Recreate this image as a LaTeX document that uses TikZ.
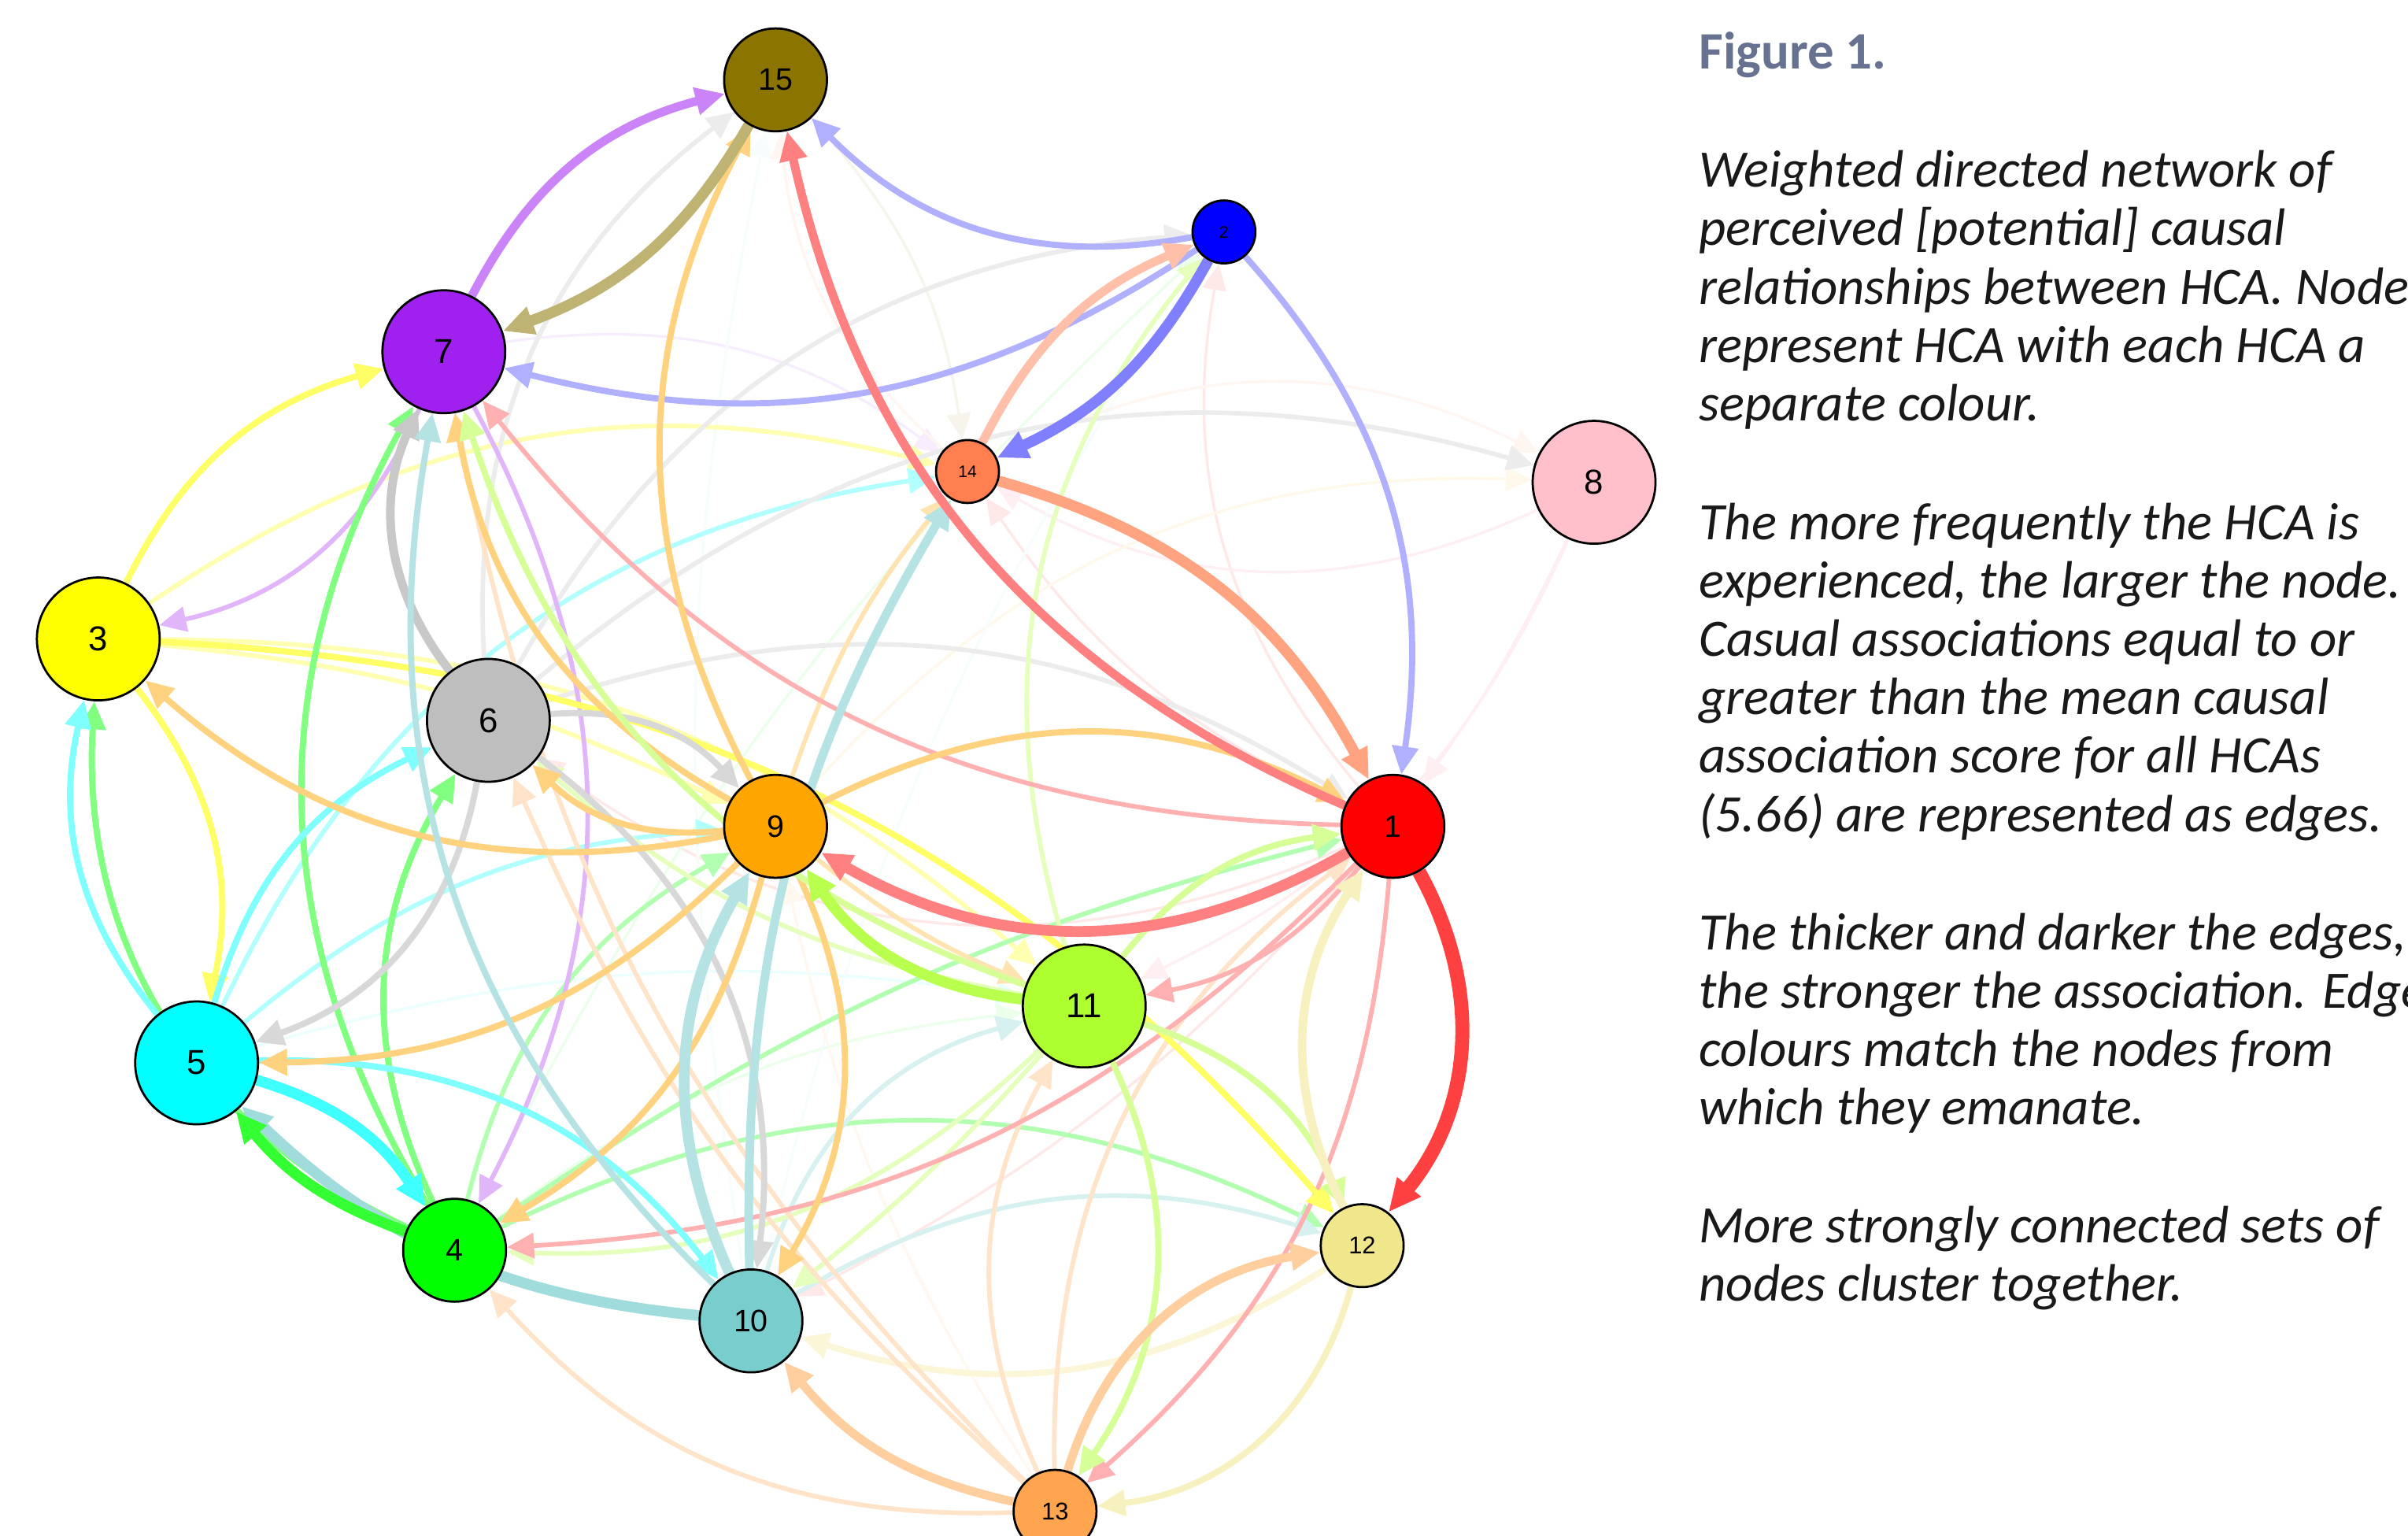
\documentclass[tikz,border=0pt]{standalone}
\usepackage{fontspec}
\setmainfont{Carlito}
\newfontfamily\nodefont{Liberation Sans}
\usetikzlibrary{arrows.meta}

\definecolor{h1}{HTML}{FF0000}
\definecolor{h2}{HTML}{0000FF}
\definecolor{h3}{HTML}{FFFF00}
\definecolor{h4}{HTML}{00FF00}
\definecolor{h5}{HTML}{00FFFF}
\definecolor{h6}{HTML}{BEBEBE}
\definecolor{h7}{HTML}{A020F0}
\definecolor{h8}{HTML}{FFC0CB}
\definecolor{h9}{HTML}{FFA500}
\definecolor{h10}{HTML}{79CDCD}
\definecolor{h11}{HTML}{ADFF2F}
\definecolor{h12}{HTML}{F0E68C}
\definecolor{h13}{HTML}{FFA54F}
\definecolor{h14}{HTML}{FF7F50}
\definecolor{h15}{HTML}{8B7500}
\definecolor{figslate}{HTML}{66728F}

\pgfdeclarelayer{edges}
\pgfsetlayers{edges,main}

\begin{document}
\begin{tikzpicture}[x=0.02cm, y=0.02cm,
  hca/.style={circle, draw=black, line width=0.8pt, inner sep=0pt},
  hcaL/.style={hca, minimum size=1.6cm, font=\nodefont\fontsize{12.8pt}{15pt}\selectfont},
  hcaM/.style={hca, minimum size=1.34cm, font=\nodefont\fontsize{11.5pt}{13pt}\selectfont},
  hcaS/.style={hca, minimum size=1.08cm, font=\nodefont\fontsize{9pt}{11pt}\selectfont},
  hcaT/.style={hca, minimum size=0.82cm, font=\nodefont\fontsize{6.2pt}{7pt}\selectfont},
  e/.style={-{Triangle[length=9pt 0.6, width=8.5pt 0.4]}},
  ew1/.style={line width=1.0pt},
  ew2/.style={line width=1.7pt},
  ew3/.style={line width=2.3pt},
  ew4/.style={line width=3.2pt},
  ew5/.style={line width=4.0pt},
  ew6/.style={line width=5.2pt},
  para/.style={anchor=base west, align=left, inner sep=0pt, text=black!90,
    font=\fontsize{19.5pt}{21.66pt}\selectfont\itshape}]
\useasboundingbox (0,0) rectangle (1568,-1000);

\node[hcaM, fill=h1] (n1) at (907,-538) {1};
\node[hcaT, fill=h2] (n2) at (797,-151) {2};
\node[hcaL, fill=h3] (n3) at (64,-416) {3};
\node[hcaM, fill=h4] (n4) at (296,-814) {4};
\node[hcaL, fill=h5] (n5) at (128,-692) {5};
\node[hcaL, fill=h6] (n6) at (318,-469) {6};
\node[hcaL, fill=h7] (n7) at (289,-229) {7};
\node[hcaL, fill=h8] (n8) at (1038,-314) {8};
\node[hcaM, fill=h9] (n9) at (505,-538) {9};
\node[hcaM, fill=h10] (n10) at (489,-860) {10};
\node[hcaL, fill=h11] (n11) at (706,-655) {11};
\node[hcaS, fill=h12] (n12) at (887,-811) {12};
\node[hcaS, fill=h13] (n13) at (687,-984) {13};
\node[hcaT, fill=h14] (n14) at (630,-307) {14};
\node[hcaM, fill=h15] (n15) at (505,-52) {15};

\begin{pgfonlayer}{edges}
% faint
\draw[e, ew1, h1!9] (n1) to[bend left=25] (n2);
\draw[e, ew1, h1!9] (n1) to[bend left=15] (n14);
\draw[e, ew1, h1!9] (n1) to[bend left=30] (n6);
\draw[e, ew1, h1!9] (n1) to[bend left=10] (n10);
\draw[e, ew1, h4!8] (n4) to[bend left=15] (n11);
\draw[e, ew1, h4!8] (n4) to[bend left=10] (n2);
\draw[e, ew1, h5!8] (n5) to[bend left=12] (n11);
\draw[e, ew1, h7!8] (n7) to[bend left=22] (n14);
\draw[e, ew1, h8!25] (n8) to[bend left=27] (n14);
\draw[e, ew1, h8!25] (n8) to[bend left=5] (n1);
\draw[e, ew1, h8!25] (n8) to[bend left=20] (n11);
\draw[e, ew1, h9!8] (n9) to[bend left=25] (n8);
\draw[e, ew1, h10!6] (n10) to[bend left=10] (n15);
\draw[e, ew1, h10!6] (n10) to[bend left=10] (n2);
\draw[e, ew1, h13!8] (n13) to[bend left=10] (n9);
\draw[e, ew1, h14!8] (n14) to[bend left=27] (n8);
\draw[e, ew1, h14!8] (n14) to[bend left=21] (n15);
\draw[e, ew1, h15!8] (n15) to[bend left=17] (n14);
% light
\draw[e, ew2, h3!30] (n3) to[bend left=24] (n14);
\draw[e, ew2, h3!30] (n3) to[bend left=20] (n11);
\draw[e, ew2, h3!30] (n3) to[bend left=10] (n9);
\draw[e, ew2, h4!30] (n4) to[bend left=23] (n9);
\draw[e, ew2, h4!30] (n4) to[bend left=10] (n1);
\draw[e, ew2, h4!30] (n4) to[bend left=26] (n12);
\draw[e, ew2, h5!30] (n5) to[bend left=28] (n14);
\draw[e, ew2, h5!30] (n5) to[bend left=18] (n9);
\draw[e, ew2, h6!30] (n6) to[bend left=28] (n15);
\draw[e, ew2, h6!30] (n6) to[bend left=28] (n2);
\draw[e, ew2, h6!30] (n6) to[bend left=28] (n8);
\draw[e, ew2, h6!30] (n6) to[bend left=25] (n1);
\draw[e, ew2, h7!33] (n7) to[bend left=27] (n3);
\draw[e, ew2, h7!33] (n7) to[bend left=28] (n4);
\draw[e, ew2, h9!30] (n9) to[bend left=10] (n14);
\draw[e, ew2, h9!30] (n9) to[bend right=8] (n11);
\draw[e, ew2, h10!30] (n10) to[bend left=29] (n11);
\draw[e, ew2, h10!30] (n10) to[bend left=24] (n12);
\draw[e, ew2, h11!32] (n11) to[bend left=28] (n2);
\draw[e, ew2, h11!32] (n11) to[bend left=15] (n6);
\draw[e, ew2, h11!32] (n11) to[bend left=23] (n4);
\draw[e, ew2, h11!32] (n11) to[bend left=5] (n10);
\draw[e, ew3, h12!35] (n12) to[bend left=25] (n10);
\draw[e, ew2, h13!30] (n13) to[bend left=25] (n4);
\draw[e, ew2, h13!30] (n13) to[bend left=27] (n11);
\draw[e, ew2, h13!30] (n13) to[bend left=27] (n1);
\draw[e, ew2, h13!30] (n13) to[bend left=12] (n6);
\draw[e, ew2, h13!30] (n13) to[bend left=17] (n7);
\draw[e, ew2, h1!31] (n1) to[bend left=25] (n7);
\draw[e, ew2, h1!31] (n1) to[bend left=20] (n11);
\draw[e, ew2, h1!31] (n1) to[bend left=22] (n13);
\draw[e, ew2, h1!31] (n1) to[bend left=21] (n4);
\draw[e, ew3, h2!31] (n2) to[bend left=28] (n15);
\draw[e, ew3, h2!31] (n2) to[bend left=24] (n7);
\draw[e, ew3, h2!31] (n2) to[bend left=25] (n1);
% strong
\draw[e, ew3, h3!60] (n3) to[bend left=24] (n7);
\draw[e, ew3, h3!60] (n3) to[bend left=23] (n12);
\draw[e, ew3, h3!60] (n3) to[bend left=25] (n5);
\draw[e, ew3, h4!50] (n4) to[bend left=34] (n3);
\draw[e, ew3, h4!50] (n4) to[bend left=28] (n6);
\draw[e, ew3, h4!50] (n4) to[bend left=30] (n7);
\draw[e, ew3, h5!50] (n5) to[bend left=26] (n3);
\draw[e, ew3, h5!50] (n5) to[bend left=24] (n6);
\draw[e, ew3, h5!50] (n5) to[bend left=27] (n10);
\draw[e, ew3, h6!60] (n6) to[bend left=30] (n5);
\draw[e, ew3, h6!60] (n6) to[bend left=26] (n9);
\draw[e, ew3, h6!60] (n6) to[bend left=30] (n10);
\draw[e, ew4, h6!85] (n6) to[bend left=31] (n7);
\draw[e, ew4, h7!55] (n7) to[bend left=24] (n15);
\draw[e, ew3, h9!50] (n9) to[bend left=28] (n15);
\draw[e, ew3, h9!50] (n9) to[bend left=26] (n3);
\draw[e, ew3, h9!50] (n9) to[bend left=25] (n6);
\draw[e, ew3, h9!50] (n9) to[bend left=25] (n7);
\draw[e, ew3, h9!50] (n9) to[bend left=27] (n1);
\draw[e, ew3, h9!50] (n9) to[bend left=22] (n5);
\draw[e, ew3, h9!50] (n9) to[bend left=22] (n4);
\draw[e, ew3, h9!50] (n9) to[bend left=28] (n10);
\draw[e, ew3, h10!55] (n10) to[bend left=28] (n7);
\draw[e, ew4, h10!55] (n10) to[bend left=16] (n14);
\draw[e, ew5, h10!55] (n10) to[bend left=27] (n9);
\draw[e, ew5, h10!70] (n10) to[bend left=19] (n5);
\draw[e, ew3, h11!50] (n11) to[bend left=26] (n7);
\draw[e, ew3, h11!50] (n11) to[bend left=24] (n12);
\draw[e, ew3, h11!50] (n11) to[bend left=22] (n1);
\draw[e, ew3, h11!50] (n11) to[bend left=30] (n13);
\draw[e, ew5, h11!85] (n11) to[bend left=24] (n9);
\draw[e, ew4, h12!55] (n12) to[bend left=30] (n1);
\draw[e, ew3, h12!55] (n12) to[bend left=34] (n13);
\draw[e, ew4, h13!55] (n13) to[bend left=19] (n10);
\draw[e, ew4, h13!55] (n13) to[bend left=32] (n12);
\draw[e, ew4, h14!50] (n14) to[bend left=20] (n2);
\draw[e, ew5, h14!72] (n14) to[bend left=23] (n1);
\draw[e, ew5, h15!55] (n15) to[bend left=20] (n7);
\draw[e, ew5, h2!50] (n2) to[bend left=18] (n14);
\draw[e, ew4, h1!50] (n1) to[bend left=27] (n15);
\draw[e, ew5, h1!50] (n1) to[bend left=30] (n9);
\draw[e, ew6, h1!75] (n1) to[bend left=34] (n12);
\draw[e, ew5, h5!75] (n5) to[bend left=20] (n4);
\draw[e, ew5, h4!80] (n4) to[bend left=15] (n5);
\end{pgfonlayer}

\node[anchor=base west, inner sep=0pt, text=figslate, font=\fontsize{19.5pt}{21.66pt}\selectfont\bfseries] (cap0) at (1106,-44.8) {Figure 1.};
\node[para] (cap1) at (1106,-274.0) {Weighted directed network of\\ perceived [potential] causal\\ relationships between HCA. Nodes\\ represent HCA with each HCA a\\ separate colour.};
\node[para] (cap2) at (1106,-541.4) {The more frequently the HCA is\\ experienced, the larger the node.\\ Casual associations equal to or\\ greater than the mean causal\\ association score for all HCAs\\ (5.66) are represented as edges.};
\node[para] (cap3) at (1106,-732.4) {The thicker and darker the edges,\\ the stronger the association. Edges\\ colours match the nodes from\\ which they emanate.};
\node[para] (cap4) at (1106,-847.0) {More strongly connected sets of\\ nodes cluster together.};
\end{tikzpicture}
\end{document}
